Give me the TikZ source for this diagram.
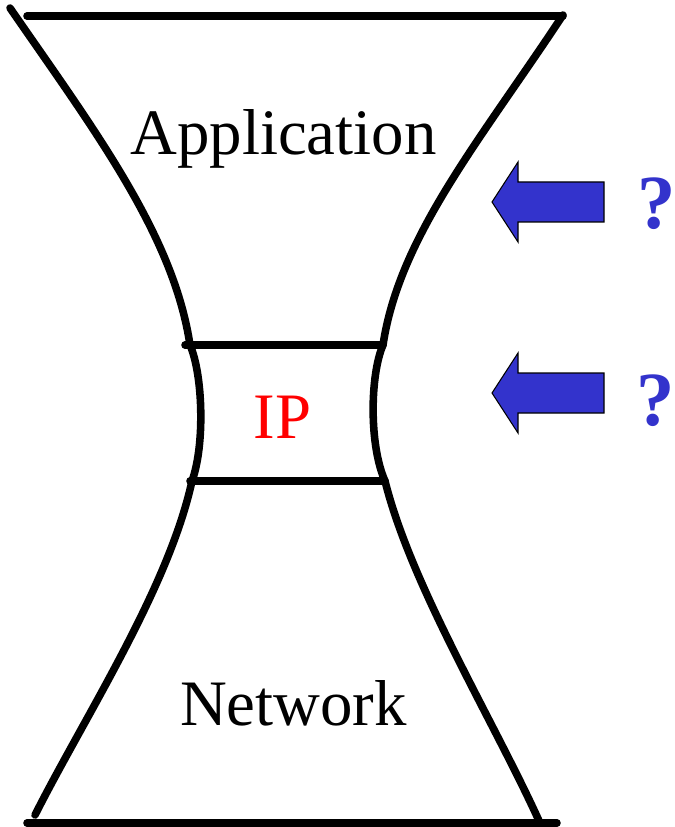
\documentclass[tikz,border=0pt]{standalone}
\usepackage{fontspec}
\setmainfont{Liberation Serif}
\usepackage{xcolor}
\usepackage{tikz}
\definecolor{arrowblue}{RGB}{51,51,204}
\tikzstyle{glass edge}=[-, draw=black, line width=4.3pt, line cap=round, line join=round]
\tikzstyle{layer text}=[inner sep=0pt, anchor=base, font=\fontsize{36.9}{44}\selectfont]
\tikzstyle{ip text}=[layer text, text=red]
\tikzstyle{blue arrow}=[fill=arrowblue, draw=black, line width=0.6pt, line join=miter]
\tikzstyle{query mark}=[inner sep=0pt, anchor=base, text=arrowblue, font=\fontsize{43.6}{50}\selectfont\bfseries]
\pgfdeclarelayer{nodelayer}
\pgfdeclarelayer{edgelayer}
\pgfsetlayers{main,edgelayer,nodelayer}

\begin{document}
\begin{tikzpicture}[x=0.02cm, y=-0.02cm]
	\useasboundingbox (0,0) rectangle (675,827);
	\begin{pgfonlayer}{nodelayer}
		\node [style=layer text] (0) at (283.5,155) {Application};
		\node [style=ip text] (1) at (282.5,438) {IP};
		\node [style=layer text] (2) at (293.5,725) {Network};
		\node [style=query mark] (3) at (657,229) {?};
		\node [style=query mark] (4) at (656,425) {?};
	\end{pgfonlayer}
	\begin{pgfonlayer}{edgelayer}
		% corners of the hourglass
		\coordinate (5) at (27,16);
		\coordinate (6) at (563,16);
		\coordinate (7) at (27,823);
		\coordinate (8) at (557,823);
		\coordinate (9) at (185,345);
		\coordinate (10) at (381,345);
		\coordinate (11) at (190,481);
		\coordinate (12) at (385,481);
		\coordinate (13) at (10,8);
		\coordinate (14) at (190,345);
		\coordinate (15) at (192,481);
		\coordinate (16) at (35,815);
		\coordinate (17) at (563,15);
		\coordinate (18) at (383,345);
		\coordinate (19) at (540,823);
		\draw [style=glass edge] (5) to (6);
		\draw [style=glass edge] (7) to (8);
		\draw [style=glass edge] (9) to (10);
		\draw [style=glass edge] (11) to (12);
		% left side
		\draw [style=glass edge] (13) .. controls (95,131) and (173.5,235) .. (14);
		\draw [style=glass edge] (14) .. controls (203,375) and (205,445) .. (15);
		\draw [style=glass edge] (15) .. controls (168.4,588.8) and (84.5,717) .. (16);
		% right side
		\draw [style=glass edge] (17) .. controls (480.5,140) and (399.3,236) .. (18);
		\draw [style=glass edge] (18) .. controls (370,375) and (369,445) .. (12);
		\draw [style=glass edge] (12) .. controls (411.7,587.7) and (494.9,722.9) .. (19);
		% block arrows
		\foreach \y in {202,393}
			\draw [style=blue arrow] (492,\y) -- (518,\y-40) -- (518,\y-20) -- (604,\y-20) -- (604,\y+20) -- (518,\y+20) -- (518,\y+40) -- cycle;
	\end{pgfonlayer}
\end{tikzpicture}
\end{document}
